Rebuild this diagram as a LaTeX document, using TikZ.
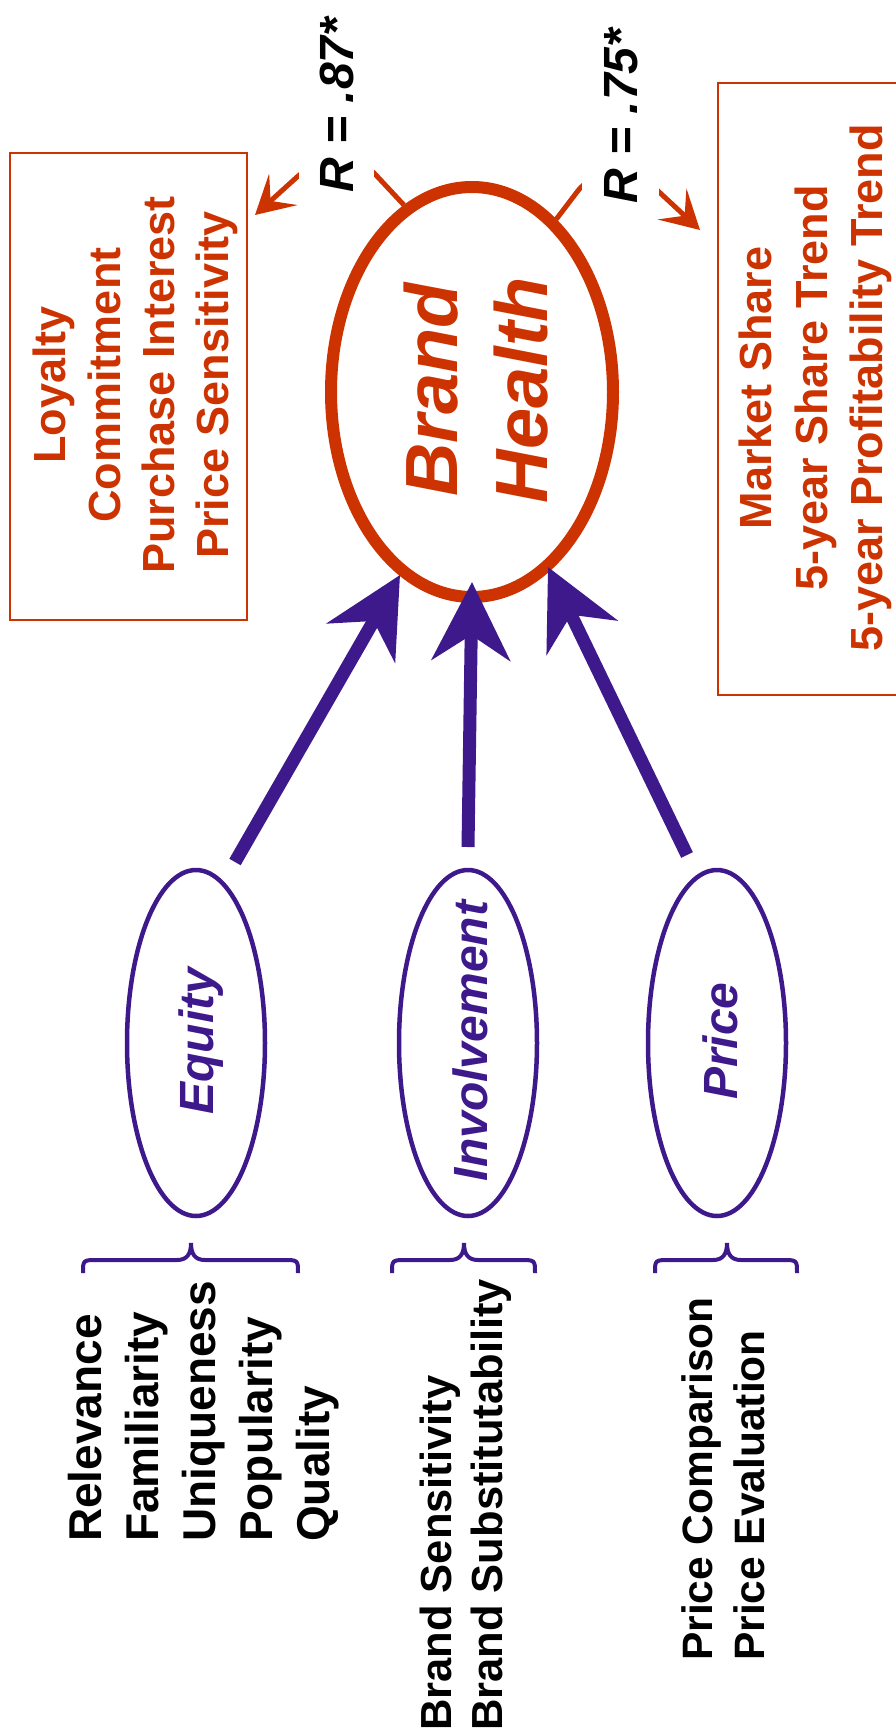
\documentclass[tikz,border=0pt]{standalone}
\usepackage{fontspec}
\setmainfont{Liberation Sans}
\usetikzlibrary{shapes.geometric,arrows.meta}
\definecolor{bhorange}{RGB}{204,51,0}
\definecolor{bhpurple}{RGB}{62,25,139}
\newcommand{\fsz}[1]{\fontsize{#1}{#1}\selectfont\bfseries}
\newcommand{\mybrace}[3]{%
  \draw[pbrace] (#1,1273) .. controls (#1,1260) .. ({#1+15},1260) -- ({#2-14},1260)
    .. controls ({#2-4},1260) and (#2,1254) .. (#2,1243)
    .. controls (#2,1254) and ({#2+4},1260) .. ({#2+14},1260) -- ({#3-15},1260)
    .. controls (#3,1260) .. (#3,1273);}
\begin{document}
\begin{tikzpicture}[x=1pt,y=-1pt,
  rtxt/.style={rotate=90, inner sep=0pt},
  obox/.style={draw=bhorange, line width=2pt, inner sep=0pt},
  oline/.style={draw=bhorange, line width=5pt},
  otip/.style={-{Stealth[length=38pt,width=42pt,inset=17pt]}},
  parrow/.style={draw=bhpurple, line width=13pt, -{Stealth[length=78pt,width=78pt,inset=25pt]}},
  bigell/.style={ellipse, draw=bhorange, line width=12pt, minimum width=282pt, minimum height=410pt, inner sep=0pt},
  smallell/.style={ellipse, draw=bhpurple, line width=4.5pt, minimum width=138pt, minimum height=346pt, inner sep=0pt},
  pbrace/.style={draw=bhpurple, line width=4pt},
  boxtxt/.style={rtxt, text=bhorange, font=\fsz{45}, anchor=base},
  rlab/.style={rtxt, fill=white, font=\fsz{48}\itshape, anchor=base},
  bhtxt/.style={rtxt, text=bhorange, font=\fsz{74}\itshape, anchor=base},
  factor/.style={rtxt, text=bhpurple, font=\fsz{48}\itshape, anchor=base},
  itemA/.style={rtxt, font=\fsz{46}, anchor=base west},
  itemB/.style={rtxt, font=\fsz{43.5}, anchor=base west},
  itemC/.style={rtxt, font=\fsz{42.5}, anchor=base west}
]
\fill[white] (0,0) rectangle (895,1735);
\useasboundingbox (0,0) rectangle (895,1735);

% boxes
\node[obox, minimum width=237pt, minimum height=467pt] (lbox) at (128.5,386.5) {};
\node[obox, minimum width=212pt, minimum height=612pt] (rbox) at (824,389) {};
\node[boxtxt] (lb1) at (65,385) {Loyalty};
\node[boxtxt] (lb2) at (120,385) {Commitment};
\node[boxtxt] (lb3) at (174,385) {Purchase Interest};
\node[boxtxt] (lb4) at (228,385) {Price Sensitivity};
\node[boxtxt] (rb1) at (771,388) {Market Share};
\node[boxtxt] (rb2) at (827,388) {5-year Share Trend};
\node[boxtxt] (rb3) at (882,388) {5-year Profitability Trend};

% brand health
\node[bigell] (bh) at (472,392) {};
\node[bhtxt] (bht1) at (457,390) {Brand};
\node[bhtxt] (bht2) at (547,390) {Health};

% orange connectors
\coordinate (la) at (374,173);
\coordinate (lb) at (297,177);
\coordinate (lc) at (255,215);
\draw[oline, otip] (bh.110) -- (la) to[out=134,in=42] (lb) -- (lc);
\coordinate (ra) at (577,192);
\coordinate (rb) at (657,190);
\coordinate (rc) at (700,230);
\draw[oline, otip] (bh.64) -- (ra) to[out=54,in=137] (rb) -- (rc);
\node[rlab, inner ysep=20.5pt] (r1) at (353,105) {R = .87*};
\node[rlab, inner ysep=21.5pt] (r2) at (637,116) {R = .75*};

% factor ellipses
\node[smallell] (eq) at (196,1043) {};
\node[smallell] (inv) at (468,1043) {};
\node[smallell] (pr) at (717,1043) {};
\node[factor] (eqt) at (213,1041) {Equity};
\node[factor] (invt) at (487,1041) {Involvement};
\node[factor] (prt) at (737,1041) {Price};

% purple arrows
\coordinate (eqT) at (235,862);
\coordinate (eqH) at (400,575);
\coordinate (invT) at (468,847);
\coordinate (invH) at (472,582);
\coordinate (prT) at (687,855);
\coordinate (prH) at (548,567);
\draw[parrow] (eqT) -- (eqH);
\draw[parrow] (invT) -- (invH);
\draw[parrow] (prT) -- (prH);

% braces
\mybrace{83}{191}{298}
\mybrace{392}{464}{535}
\mybrace{655}{727}{797}

% item lists
\node[itemA] (e1) at (101,1542) {Relevance};
\node[itemA] (e2) at (158,1542) {Familiarity};
\node[itemA] (e3) at (215,1542) {Uniqueness};
\node[itemA] (e4) at (272,1542) {Popularity};
\node[itemA] (e5) at (329,1542) {Quality};
\node[itemB] (i1) at (451,1731) {Brand Sensitivity};
\node[itemB] (i2) at (502,1731) {Brand Substitutability};
\node[itemC] (p1) at (712,1661) {Price Comparison};
\node[itemC] (p2) at (764,1661) {Price Evaluation};
\end{tikzpicture}
\end{document}
